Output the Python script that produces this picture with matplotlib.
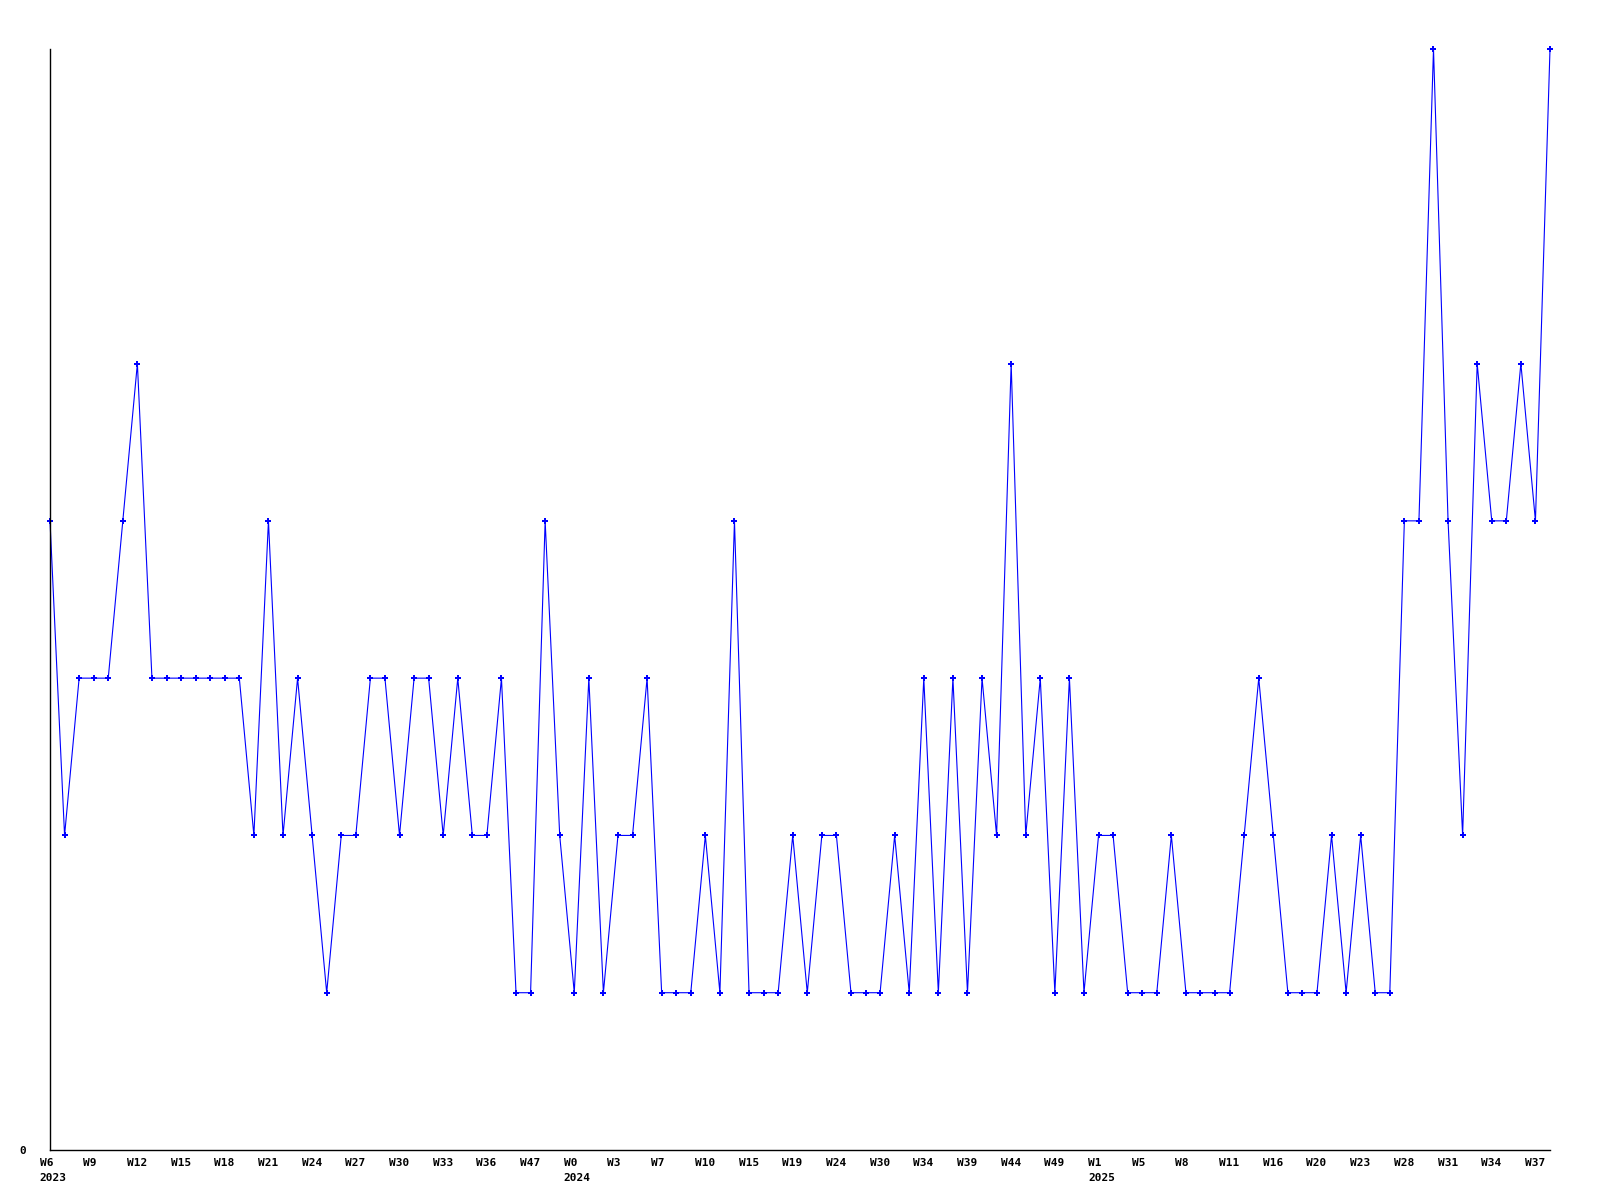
import matplotlib
matplotlib.use("Agg")
import matplotlib.pyplot as plt
import matplotlib.transforms as mtransforms
from matplotlib.font_manager import FontProperties

# === Data ===
values = [4, 2, 3, 3, 3, 4, 5, 3, 3, 3, 3, 3, 3, 3, 2, 4, 2, 3, 2, 1,
          2, 2, 3, 3, 2, 3, 3, 2, 3, 2, 2, 3, 1, 1,
          4, 2, 1, 3, 1, 2, 2, 3, 1, 1, 1, 2, 1, 4, 1, 1, 1, 2, 1, 2,
          2, 1, 1, 1, 2, 1, 3, 1, 3, 1, 3, 2,
          5, 2, 3, 1, 3, 1, 2, 2, 1, 1, 1, 2, 1, 1, 1, 1, 2, 3, 2, 1,
          1, 1, 2, 1, 2, 1, 1, 4, 4, 7, 4, 2, 5, 4, 4, 5, 4, 7]

week_labels = ["W6", "W9", "W12", "W15", "W18", "W21", "W24", "W27", "W30",
               "W33", "W36", "W47", "W0", "W3", "W7", "W10", "W15", "W19",
               "W24", "W30", "W34", "W39", "W44", "W49", "W1", "W5", "W8",
               "W11", "W16", "W20", "W23", "W28", "W31", "W34", "W37"]
# year shown under the first label of each year
year_at = {0: "2023", 12: "2024", 24: "2025"}
label_step = 3

x = list(range(len(values)))

# === Figure ===
fig = plt.figure(figsize=(16, 12), dpi=100)
ax = fig.add_axes([50 / 1600, 1 - 1150 / 1200, 1500 / 1600, 1101 / 1200])

ax.plot(x, values, color="#0000ff", lw=0.8, marker="P", markersize=4.2,
        markeredgewidth=0, clip_on=False)

ax.set_xlim(0, len(values) - 1)
ax.set_ylim(0, max(values))

for side in ("top", "right"):
    ax.spines[side].set_visible(False)
for side in ("left", "bottom"):
    ax.spines[side].set_linewidth(1.0)
    ax.spines[side].set_color("black")

ticks_text = [lab + ("\n" + year_at[i] if i in year_at else "")
              for i, lab in enumerate(week_labels)]
ax.set_xticks(list(range(0, len(values), label_step))[:len(ticks_text)])
ax.set_xticklabels(ticks_text)
ax.set_yticks([0])
ax.set_yticklabels(["0"])

ax.tick_params(axis="x", length=0, pad=6)
ax.tick_params(axis="y", length=0, pad=17)

font = FontProperties(family="DejaVu Sans Mono", weight="bold", size=8)
shift = mtransforms.ScaledTranslation(-10.5 / 100, 0, fig.dpi_scale_trans)
for t in ax.get_xticklabels():
    t.set_fontproperties(font)
    t.set_horizontalalignment("left")
    t.set_multialignment("left")
    t.set_linespacing(1.55)
    t.set_verticalalignment("top")
    t.set_transform(t.get_transform() + shift)
for t in ax.get_yticklabels():
    t.set_fontproperties(font)

fig.savefig("out.png", dpi=100, facecolor="white")
